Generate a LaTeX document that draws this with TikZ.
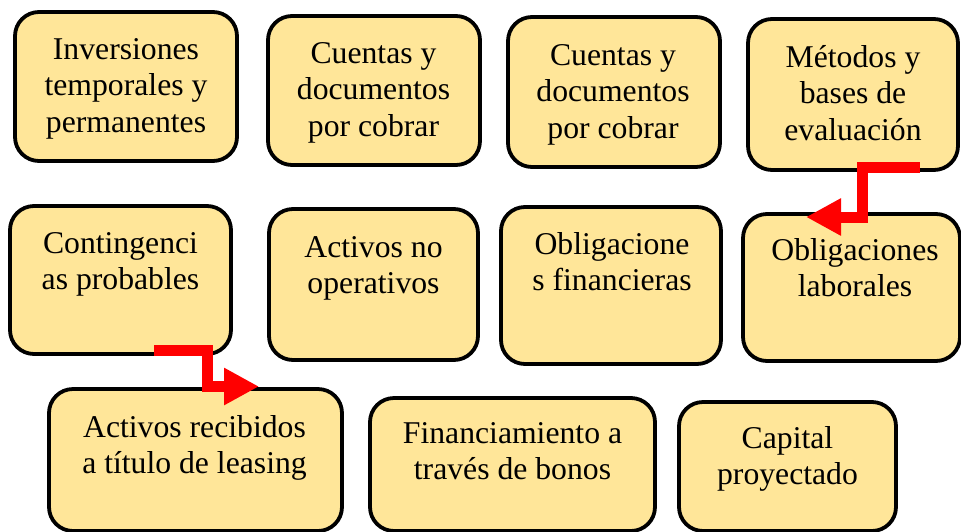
\documentclass[tikz,border=0pt]{standalone}
\usepackage{fontspec}
\setmainfont{Liberation Serif}
\usetikzlibrary{arrows.meta}
\definecolor{boxfill}{HTML}{FFE699}
\definecolor{arrred}{HTML}{FF0000}
\newcommand{\boxlines}[1]{\parbox[t]{320pt}{\centering\fontsize{31.7pt}{36.7pt}\selectfont #1}}
\tikzset{
  box/.style={draw=black, line width=3.8pt, fill=boxfill, rounded corners=24pt, inner sep=0pt},
  txt/.style={anchor=base, inner sep=0pt, font=\fontsize{31.7pt}{36.7pt}\selectfont},
  redarrow/.style={draw=arrred, line width=11pt, line join=miter, line cap=butt,
    -{Triangle[length=35pt,width=35pt]}}
}
\begin{document}
\begin{tikzpicture}[x=1pt,y=-1pt]
\useasboundingbox (0,0) rectangle (961,531);
% boxes
\node[box, minimum width=222pt, minimum height=149pt] (b1) at (126,86.5) {};
\node[box, minimum width=212pt, minimum height=149pt] (b2) at (374,90.5) {};
\node[box, minimum width=212pt, minimum height=150pt] (b3) at (614,92) {};
\node[box, minimum width=210pt, minimum height=151pt] (b4) at (853,94.5) {};
\node[box, minimum width=221pt, minimum height=148pt] (b5) at (120.5,280) {};
\node[box, minimum width=209pt, minimum height=151pt] (b6) at (373.5,284.5) {};
\node[box, minimum width=220pt, minimum height=157pt] (b7) at (611,285.5) {};
\node[box, minimum width=217pt, minimum height=147pt] (b8) at (851.5,287.5) {};
\node[box, minimum width=293pt, minimum height=142pt] (b9) at (195.5,460) {};
\node[box, minimum width=285pt, minimum height=133pt] (b10) at (512.5,464.5) {};
\node[box, minimum width=217pt, minimum height=129pt] (b11) at (787.5,466.5) {};
% texts
\node[txt] (t1) at (126,59) {\boxlines{Inversiones\\temporales y\\permanentes}};
\node[txt] (t2) at (373.5,63) {\boxlines{Cuentas y\\documentos\\por cobrar}};
\node[txt] (t3) at (613,65) {\boxlines{Cuentas y\\documentos\\por cobrar}};
\node[txt] (t4) at (853,67) {\boxlines{Métodos y\\bases de\\evaluación}};
\node[txt] (t5) at (120.5,253) {\boxlines{Contingenci\\as probables}};
\node[txt] (t6) at (373.5,257) {\boxlines{Activos no\\operativos}};
\node[txt] (t7) at (612,254) {\boxlines{Obligacione\\s financieras}};
\node[txt] (t8) at (855,260) {\boxlines{Obligaciones\\laborales}};
\node[txt] (t9) at (194.5,437) {\boxlines{Activos recibidos\\a título de leasing}};
\node[txt] (t10) at (512.5,443) {\boxlines{Financiamiento a\\través de bonos}};
\node[txt] (t11) at (787.5,448) {\boxlines{Capital\\proyectado}};
% connectors
\coordinate (a1s) at (920,167);
\coordinate (a1m) at (862,167);
\coordinate (a1e) at (806,217);
\draw[redarrow] (a1s) -- (a1m) |- (a1e);
\coordinate (a2s) at (154,350.5);
\coordinate (a2m) at (207,350.5);
\coordinate (a2e) at (259,386.5);
\draw[redarrow] (a2s) -- (a2m) |- (a2e);
\end{tikzpicture}
\end{document}
